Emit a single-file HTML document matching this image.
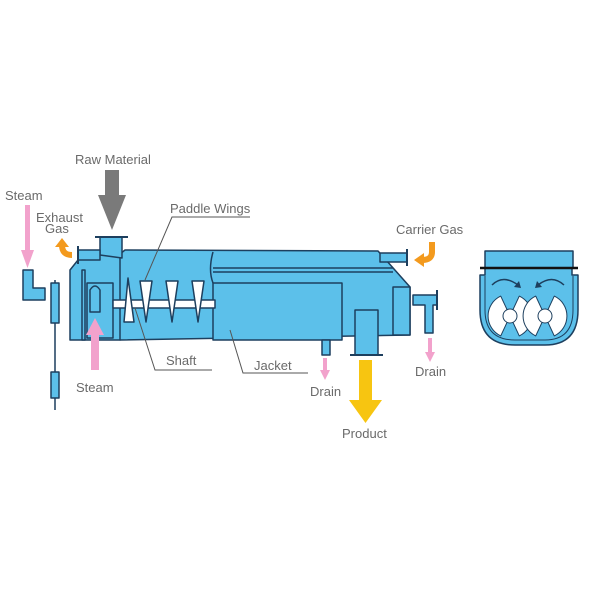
<!DOCTYPE html>
<html><head><style>body{margin:0;background:#fff}svg{display:block}text{font-family:"Liberation Sans",sans-serif;font-size:13px;fill:#6a6a6a}</style></head><body>
<svg width="600" height="600" viewBox="0 0 600 600" xmlns="http://www.w3.org/2000/svg">
<g stroke="#1d3f5e" stroke-width="1.5" fill="#5cc0ea" stroke-linejoin="round">
<path d="M125 250 L378 251 L410 287 L410 335 L120 340 L110 300 L100 270 Z"/>
<rect x="213" y="283" width="129" height="57"/>
<line x1="213" y1="268" x2="393" y2="268"/><line x1="213" y1="272" x2="393" y2="272"/>
<path d="M213 252 Q208 270 213 283" fill="none"/>
<rect x="393" y="287" width="17" height="48"/>
<rect x="355" y="310" width="23" height="45"/>
<line x1="350" y1="355" x2="383" y2="355" stroke-width="2"/>
<rect x="322" y="340" width="8" height="15"/>
<path d="M413 295 L437 295 L437 305 L433 305 L433 333 L425 333 L425 305 L413 305 Z"/>
<line x1="437" y1="290" x2="437" y2="310" stroke-width="2"/>
<rect x="380" y="253" width="27" height="9"/>
<line x1="407" y1="249" x2="407" y2="266" stroke-width="2"/>
<path d="M70 270 L82 255 L120 255 L120 340 L70 340 Z"/>
<rect x="82" y="270" width="3" height="70"/>
<rect x="87" y="283" width="26" height="55"/>
<path d="M90 312 L90 290 Q95 282 100 290 L100 312 Z" fill="#5cc0ea"/>
<path d="M100 237 L100 255 L122 258 L122 237 Z"/>
<line x1="95" y1="237" x2="128" y2="237" stroke-width="2"/>
<rect x="78" y="250" width="22" height="10"/>
<line x1="78" y1="246" x2="78" y2="264" stroke-width="2"/>
<rect x="113" y="300" width="102" height="8" fill="#fff"/>
<g fill="#fff"><path d="M128 278 L124 322 L134 322 Z"/><path d="M140 281 L152 281 L146 322 Z"/><path d="M166 281 L178 281 L172 322 Z"/><path d="M192 281 L204 281 L198 322 Z"/></g>
<path d="M23 270 L33 270 L33 288 L45 288 L45 300 L23 300 Z"/>
<line x1="55" y1="280" x2="55" y2="410" stroke-width="1.5"/>
<rect x="51" y="283" width="8" height="40" fill="#5cc0ea"/>
<rect x="51" y="372" width="8" height="26" fill="#5cc0ea"/>
<rect x="485" y="251" width="88" height="17"/>
<path d="M480 275 L480 310 Q480 345 515 345 L545 345 Q578 345 578 310 L578 275 L572 275 L572 268 L485 268 L485 275 Z"/>
<path d="M485 276 L485 310 Q485 340 515 340 L545 340 Q573 340 573 310 L573 276" fill="none" stroke-width="1"/>
<line x1="480" y1="268" x2="578" y2="268" stroke="#111" stroke-width="2.5"/>
<g fill="#fff" stroke-width="1">
<path d="M510 316 L500.7 296.1 A22 22 0 0 0 500.7 335.9 Z"/><path d="M510 316 L519.3 296.1 A22 22 0 0 1 519.3 335.9 Z"/>
<path d="M545 316 L535.7 296.1 A22 22 0 0 0 535.7 335.9 Z"/><path d="M545 316 L554.3 296.1 A22 22 0 0 1 554.3 335.9 Z"/>
<circle cx="510" cy="316" r="7"/><circle cx="545" cy="316" r="7"/>
</g>
<path d="M492 285 Q503 274 518 285 M538 285 Q552 274 564 285" fill="none"/>
<path d="M519 281 L521 288 L514 287 Z M537 281 L535 288 L542 287 Z" fill="#1d3f5e" stroke="none"/>
</g>
<path d="M105 170 H119 V195 H126 L112 230 L98 195 H105 Z" fill="#7a7a7a"/>
<path d="M25 205 H30 V250 H34 L27.5 268 L21 250 H25 Z" fill="#f2a2cc"/>
<path d="M91 370 H99 V335 H104 L95 318 L86 335 H91 Z" fill="#f2a2cc"/>
<path d="M323 358 H327 V370 H330 L325 380 L320 370 H323 Z" fill="#f2a2cc"/>
<path d="M428 338 H432 V352 H435 L430 362 L425 352 H428 Z" fill="#f2a2cc"/>
<path d="M359 360 H372 V400 H382 L365.5 423 L349 400 H359 Z" fill="#f7c511"/>
<path d="M72 255 Q62 255 62 245" stroke="#f39a1e" stroke-width="6" fill="none"/><path d="M55 247 L62 238 L69 247 Z" fill="#f39a1e"/>
<path d="M432 242 L432 252 Q432 260 422 260" stroke="#f39a1e" stroke-width="6" fill="none"/><path d="M424 253 L414 260 L424 267 Z" fill="#f39a1e"/>
<g stroke="#555" stroke-width="1" fill="none">
<path d="M250 217 H172 L145 280"/><path d="M135 308 L155 370 H212"/><path d="M230 330 L243 373 H308"/>
</g>
<text x="75" y="164">Raw Material</text>
<text x="5" y="200">Steam</text>
<text x="36" y="222">Exhaust</text><text x="45" y="233">Gas</text>
<text x="170" y="213">Paddle Wings</text>
<text x="396" y="234">Carrier Gas</text>
<text x="166" y="365">Shaft</text>
<text x="254" y="370">Jacket</text>
<text x="76" y="392">Steam</text>
<text x="310" y="396">Drain</text>
<text x="415" y="376">Drain</text>
<text x="342" y="438">Product</text>
</svg>
</body></html>
